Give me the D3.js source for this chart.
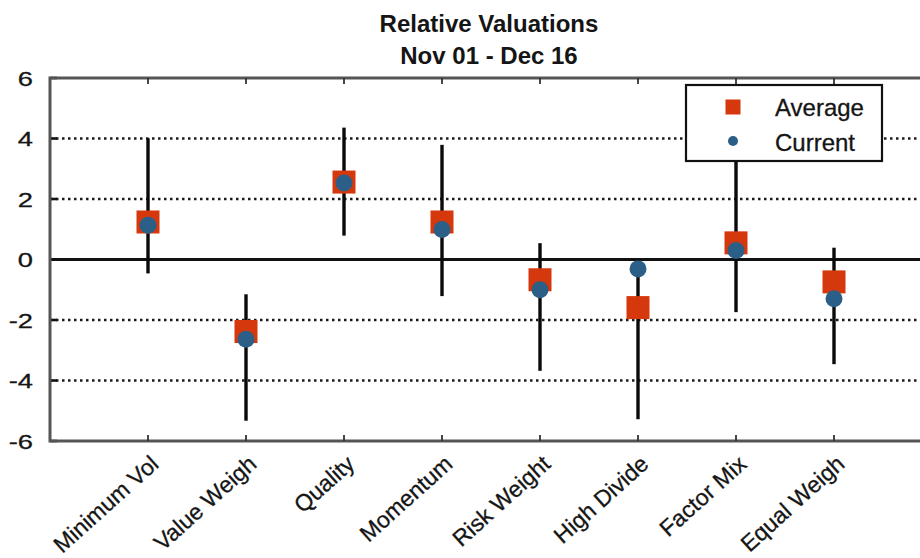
<!DOCTYPE html>
<html>
<head>
<meta charset="utf-8">
<script src="https://cdn.jsdelivr.net/npm/d3@7"></script>
<style>
  html, body { margin: 0; padding: 0; background: #fff; }
  svg { display: block; font-family: "Liberation Sans", Arial, sans-serif; }
</style>
</head>
<body>
<svg id="chart" width="920" height="558"></svg>
<script>
// ---- data ----
const categories = ["Minimum Vol", "Value Weigh", "Quality", "Momentum", "Risk Weight", "High Divide", "Factor Mix", "Equal Weigh"];
const averageValues = [1.24, -2.38, 2.56, 1.24, -0.67, -1.59, 0.55, -0.74];
const currentValues = [1.13, -2.64, 2.53, 0.99, -1.00, -0.31, 0.30, -1.30];
const rangeHigh = [4.01, -1.15, 4.36, 3.79, 0.54, -0.31, 4.6, 0.39];
const rangeLow = [-0.46, -5.33, 0.79, -1.21, -3.68, -5.28, -1.74, -3.46];
const yTicks = [-6, -4, -2, 0, 2, 4, 6];
const gridValues = [-4, -2, 2, 4];
const titleLines = ["Relative Valuations", "Nov 01 - Dec 16"];
const legendLabels = ["Average", "Current"];

const avgColor = "#d6380d";
const curColor = "#2c5f87";

const svg = d3.select("#chart");
const pLeft = 50, pRight = 932, pTop = 78, pBottom = 441;

const x = d3.scaleLinear().domain([0, categories.length + 1]).range([pLeft, pRight]);
const y = d3.scaleLinear().domain([-6, 6]).range([pBottom, pTop]);

// title
svg.selectAll("text.title").data(titleLines).enter().append("text")
  .attr("class", "title")
  .attr("x", (pLeft + pRight) / 2 - 2)
  .attr("y", (d, i) => 32 + i * 32)
  .attr("text-anchor", "middle")
  .attr("font-size", 24)
  .attr("font-weight", "bold")
  .attr("fill", "#151515")
  .text(d => d);

// grid lines (dotted)
svg.append("g").selectAll("line").data(gridValues).enter().append("line")
  .attr("x1", pLeft).attr("x2", pRight)
  .attr("y1", d => y(d)).attr("y2", d => y(d))
  .attr("stroke", "#1a1a1a").attr("stroke-width", 2.6)
  .attr("stroke-dasharray", "2.5,3.5");

// zero line
svg.append("line")
  .attr("x1", pLeft).attr("x2", pRight)
  .attr("y1", y(0)).attr("y2", y(0))
  .attr("stroke", "#111").attr("stroke-width", 3.2);

// y ticks (inside)
svg.append("g").selectAll("line").data(yTicks).enter().append("line")
  .attr("x1", pLeft).attr("x2", pLeft + 7)
  .attr("y1", d => y(d)).attr("y2", d => y(d))
  .attr("stroke", "#111").attr("stroke-width", 2.6);

// frame: left, top, bottom
svg.append("path")
  .attr("d", `M${pRight},${y(6)} H${pLeft} V${y(-6)} H${pRight}`)
  .attr("fill", "none").attr("stroke", "#555").attr("stroke-width", 3);

// x ticks top & bottom
const idx = categories.map((c, i) => i + 1);
svg.append("g").selectAll("line").data(idx).enter().append("line")
  .attr("x1", d => x(d)).attr("x2", d => x(d))
  .attr("y1", y(-6)).attr("y2", y(-6) - 6)
  .attr("stroke", "#333").attr("stroke-width", 1.8);
svg.append("g").selectAll("line").data(idx).enter().append("line")
  .attr("x1", d => x(d)).attr("x2", d => x(d))
  .attr("y1", y(6)).attr("y2", y(6) + 6)
  .attr("stroke", "#333").attr("stroke-width", 1.8);

// y tick labels (slightly widened like the reference)
svg.append("g").selectAll("text").data(yTicks).enter().append("text")
  .attr("transform", d => `translate(33,${y(d)}) scale(1.3,1)`)
  .attr("dy", "0.37em")
  .attr("text-anchor", "end")
  .attr("font-size", 21)
  .attr("fill", "#151515")
  .attr("stroke", "#151515").attr("stroke-width", 0.3)
  .text(d => d);

// category labels
svg.append("g").selectAll("text").data(categories).enter().append("text")
  .attr("transform", (d, i) => `translate(${x(i + 1) + 12},${y(-6) + 25}) rotate(-42)`)
  .attr("text-anchor", "end")
  .attr("font-size", 23)
  .attr("fill", "#151515")
  .attr("stroke", "#151515").attr("stroke-width", 0.3)
  .text(d => d);

// error bars
svg.append("g").selectAll("line").data(categories).enter().append("line")
  .attr("x1", (d, i) => x(i + 1)).attr("x2", (d, i) => x(i + 1))
  .attr("y1", (d, i) => y(rangeHigh[i])).attr("y2", (d, i) => y(rangeLow[i]))
  .attr("stroke", "#0a0a0a").attr("stroke-width", 3.4);

// average squares
const sq = 23;
svg.append("g").selectAll("rect").data(averageValues).enter().append("rect")
  .attr("x", (d, i) => x(i + 1) - sq / 2)
  .attr("y", d => y(d) - sq / 2)
  .attr("width", sq).attr("height", sq)
  .attr("fill", avgColor);

// current circles
svg.append("g").selectAll("circle").data(currentValues).enter().append("circle")
  .attr("cx", (d, i) => x(i + 1))
  .attr("cy", d => y(d))
  .attr("r", 8.5)
  .attr("fill", curColor);

// legend
const lg = svg.append("g");
lg.append("rect")
  .attr("x", 686).attr("y", 85).attr("width", 196).attr("height", 76)
  .attr("fill", "#fff").attr("stroke", "#111").attr("stroke-width", 2.2);
lg.append("rect")
  .attr("x", 733 - 7.5).attr("y", 107 - 7.5).attr("width", 15).attr("height", 15)
  .attr("fill", avgColor);
lg.append("circle")
  .attr("cx", 733).attr("cy", 141).attr("r", 5).attr("fill", curColor);
lg.selectAll("text").data(legendLabels).enter().append("text")
  .attr("x", 775)
  .attr("y", (d, i) => 116 + i * 35)
  .attr("font-size", 24)
  .attr("fill", "#151515")
  .attr("stroke", "#151515").attr("stroke-width", 0.3)
  .text(d => d);
</script>
</body>
</html>
